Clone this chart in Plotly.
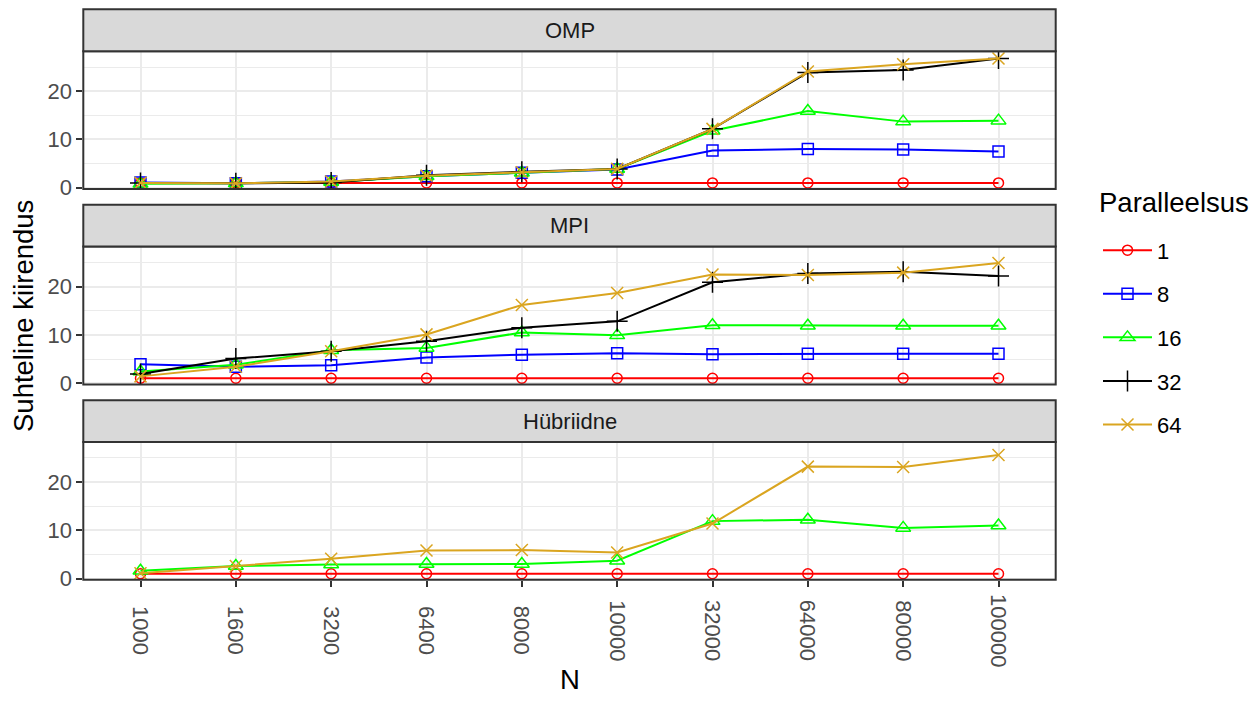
import plotly.graph_objects as go

# --- data -------------------------------------------------------------
N = ["1000", "1600", "3200", "6400", "8000", "10000", "32000", "64000", "80000", "100000"]
panels = ["OMP", "MPI", "Hübriidne"]
levels = ["1", "8", "16", "32", "64"]

omp_1 = [1.0, 1.0, 1.0, 1.0, 1.0, 1.0, 1.0, 1.0, 1.0, 1.0]
omp_8 = [1.1, 0.9, 1.3, 2.4, 3.1, 3.8, 7.7, 8.0, 7.9, 7.5]
omp_16 = [0.8, 0.9, 1.2, 2.4, 3.1, 3.9, 11.8, 15.9, 13.7, 13.9]
omp_32 = [1.0, 0.9, 1.1, 2.6, 3.3, 3.9, 12.2, 23.9, 24.4, 26.8]
omp_64 = [1.0, 0.9, 1.3, 2.5, 3.2, 3.9, 12.2, 24.1, 25.6, 26.8]

mpi_1 = [1.0, 1.0, 1.0, 1.0, 1.0, 1.0, 1.0, 1.0, 1.0, 1.0]
mpi_8 = [3.9, 3.4, 3.7, 5.3, 5.9, 6.2, 6.0, 6.1, 6.1, 6.1]
mpi_16 = [2.4, 3.8, 6.8, 7.3, 10.5, 9.9, 12.0, 11.9, 11.9, 11.9]
mpi_32 = [1.9, 5.1, 6.6, 8.7, 11.5, 12.8, 20.9, 22.7, 23.1, 22.2]
mpi_64 = [1.4, 3.4, 6.6, 10.1, 16.2, 18.7, 22.5, 22.4, 22.9, 24.9]

hyb_1 = [1.0, 1.0, 1.0, 1.0, 1.0, 1.0, 1.0, 1.0, 1.0, 1.0]
hyb_16 = [1.6, 2.6, 2.9, 3.0, 3.0, 3.7, 11.9, 12.2, 10.5, 11.0]
hyb_64 = [1.1, 2.6, 4.1, 5.8, 5.9, 5.4, 11.4, 23.2, 23.1, 25.6]

series = {
    "OMP": {"1": omp_1, "8": omp_8, "16": omp_16, "32": omp_32, "64": omp_64},
    "MPI": {"1": mpi_1, "8": mpi_8, "16": mpi_16, "32": mpi_32, "64": mpi_64},
    "Hübriidne": {"1": hyb_1, "16": hyb_16, "64": hyb_64},
}

# --- styling ----------------------------------------------------------
colors = {"1": "#FF0000", "8": "#0000FF", "16": "#00FF00", "32": "#000000", "64": "#DAA520"}
symbols = {"1": "circle-open", "8": "square-open", "16": "triangle-up-open",
           "32": "cross-thin-open", "64": "x-thin-open"}
sizes = {"1": 10, "8": 11, "16": 13, "32": 15, "64": 12}

W, H = 1260, 707
FONT = "Liberation Sans, Arial, sans-serif"
TICK_SIZE = 22
TITLE_SIZE = 27.5

px_left, px_right = 83.3, 1055.7
panel_px = [(52, 192), (250.5, 390.5), (449, 589)]   # plot area top/bottom in pixels
strip_px = [(9.5, 52), (208, 250.5), (406.5, 449)]


def fx(px):
    return px / W


def fy(py):
    return 1 - py / H


fig = go.Figure()

layout = dict(
    width=W, height=H,
    margin=dict(l=0, r=0, t=0, b=0),
    paper_bgcolor="white", plot_bgcolor="white",
    font=dict(family=FONT, color="#000000"),
    showlegend=True,
)

shapes = []
annotations = []

for i, name in enumerate(panels):
    xa = "xaxis" if i == 0 else f"xaxis{i + 1}"
    ya = "yaxis" if i == 0 else f"yaxis{i + 1}"
    xref = "x" if i == 0 else f"x{i + 1}"
    yref = "y" if i == 0 else f"y{i + 1}"
    top, bot = panel_px[i]
    last = i == len(panels) - 1

    layout[xa] = dict(
        domain=[fx(px_left), fx(px_right)],
        anchor=yref,
        type="category",
        categoryorder="array", categoryarray=N,
        range=[-0.6, 9.6],
        showgrid=True, gridcolor="#EBEBEB", gridwidth=2,
        zeroline=False,
        showline=False,
        ticks="outside" if last else "",
        ticklen=6, tickwidth=2, tickcolor="#333333",
        showticklabels=False,
    )
    layout[ya] = dict(
        domain=[fy(bot), fy(top)],
        anchor=xref,
        range=[-0.27, 28.3],
        tickvals=[0, 10, 20],
        showgrid=True, gridcolor="#EBEBEB", gridwidth=2,
        minor=dict(tickvals=[5, 15, 25], showgrid=True, gridcolor="#EBEBEB",
                   gridwidth=1, ticks=""),
        zeroline=False,
        showline=False,
        ticks="outside", ticklen=6, tickwidth=2, tickcolor="#333333",
        tickfont=dict(size=TICK_SIZE, color="#4D4D4D", family=FONT),
    )

    for lv in levels:
        if lv not in series[name]:
            continue
        fig.add_trace(go.Scatter(
            x=N, y=series[name][lv],
            xaxis=xref, yaxis=yref,
            mode="lines+markers",
            name=lv,
            legendgroup=lv,
            showlegend=(i == 0),
            line=dict(color=colors[lv], width=2),
            marker=dict(symbol=symbols[lv], size=sizes[lv],
                        color=colors[lv], line=dict(color=colors[lv], width=1.5)),
        ))

    # panel border
    shapes.append(dict(type="rect", xref="paper", yref="paper",
                       x0=fx(px_left), x1=fx(px_right), y0=fy(bot), y1=fy(top),
                       line=dict(color="#333333", width=2), fillcolor="rgba(0,0,0,0)",
                       layer="above"))
    # facet strip
    s_top, s_bot = strip_px[i]
    shapes.append(dict(type="rect", xref="paper", yref="paper",
                       x0=fx(px_left), x1=fx(px_right), y0=fy(s_bot), y1=fy(s_top),
                       line=dict(color="#333333", width=2), fillcolor="#D9D9D9",
                       layer="above"))
    annotations.append(dict(text=name, xref="paper", yref="paper",
                            x=fx((px_left + px_right) / 2), y=fy((s_top + s_bot) / 2),
                            showarrow=False, xanchor="center", yanchor="middle",
                            font=dict(size=TICK_SIZE, color="#1A1A1A", family=FONT)))

# rotated, centre-aligned category labels under the bottom panel
# (category axes take the serial number of the category as coordinate)
for pos, cat in enumerate(N):
    annotations.append(dict(text=cat, xref="x3", yref="paper",
                            x=pos, y=fy(640.5), textangle=90,
                            showarrow=False, xanchor="center", yanchor="middle",
                            font=dict(size=TICK_SIZE, color="#4D4D4D", family=FONT)))

# axis titles
annotations.append(dict(text="N", xref="paper", yref="paper",
                        x=fx((px_left + px_right) / 2), y=fy(690),
                        showarrow=False, xanchor="center", yanchor="middle",
                        font=dict(size=TITLE_SIZE, color="#000000", family=FONT)))
annotations.append(dict(text="Suhteline kiirendus", xref="paper", yref="paper",
                        x=fx(23), y=fy(321), textangle=-90,
                        showarrow=False, xanchor="center", yanchor="middle",
                        font=dict(size=TITLE_SIZE, color="#000000", family=FONT)))
# legend title
annotations.append(dict(text="Paralleelsus", xref="paper", yref="paper",
                        x=fx(1097), y=fy(206),
                        showarrow=False, xanchor="left", yanchor="middle",
                        font=dict(size=TITLE_SIZE, color="#000000", family=FONT)))

layout["shapes"] = shapes
layout["annotations"] = annotations
layout["legend"] = dict(
    x=fx(1098), y=fy(233), xanchor="left", yanchor="top",
    font=dict(size=TICK_SIZE, family=FONT, color="#000000"),
    tracegroupgap=12,
    itemwidth=49,
    bgcolor="rgba(0,0,0,0)",
)

fig.update_layout(**layout)
fig.write_html("out.html")
